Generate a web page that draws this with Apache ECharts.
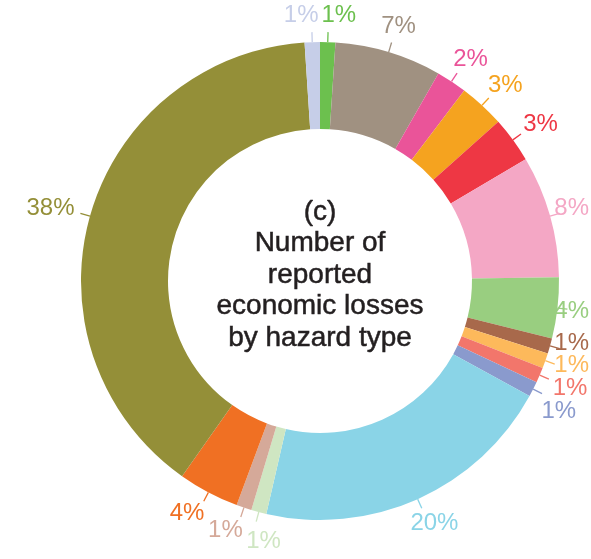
<!DOCTYPE html>
<html>
<head>
<meta charset="utf-8">
<script src="https://cdn.jsdelivr.net/npm/echarts@6/dist/echarts.min.js"></script>
<style>
  html, body { margin: 0; padding: 0; background: #ffffff; }
  #chart { width: 591px; height: 559px; }
</style>
</head>
<body>
<div id="chart"></div>
<script>
// Share of reported economic losses per hazard type (percent), clockwise from 12 o'clock
const hazards = [
  'h01', 'h02', 'h03', 'h04', 'h05', 'h06', 'h07', 'h08', 'h09',
  'h10', 'h11', 'h12', 'h13', 'h14', 'h15', 'h16', 'h17'
];
const shares = [1, 7, 2, 3, 3, 8, 4, 1, 1, 1, 1, 20, 1, 1, 4, 38, 1];

// Slice palette, same order as the values above
const palette = [
  '#6cc04e', '#a09181', '#ea5499', '#f5a31f', '#ee3744', '#f4a7c5',
  '#99ce80', '#a8694b', '#fdb95b', '#f2766b', '#8a9acd', '#8ad4e7',
  '#cfe6c2', '#d5a999', '#f07023', '#948f38', '#c6cee8'
];

const titleLines = ['(c)', 'Number of', 'reported', 'economic losses', 'by hazard type'];

const PIE_CENTER = [320, 281];
const VIEW_W = 591;
const LABEL_GAP = 7;

const chart = echarts.init(document.getElementById('chart'), null, { renderer: 'canvas' });

const pieData = shares.map((v, i) => ({
  name: hazards[i],
  value: v,
  itemStyle: { color: palette[i] },
  label: { color: palette[i] },
  labelLine: { lineStyle: { color: palette[i] } }
}));

// Label placement: each percentage sits just past the end of a short radial
// tick. A first layout pass collects the ticks, the labels are then spread
// along the ring where they collide, and a second pass applies the result.
const spots = [];

function clampX(s, x) {
  return Math.min(Math.max(x, s.w / 2 + 1), VIEW_W - 2 - s.w / 2);
}

function collectLabel(p) {
  const pts = p.labelLinePoints;
  if (!pts) return {};
  const a = pts[0];
  const b = pts[1];
  let ux = a[0] - PIE_CENTER[0];
  let uy = a[1] - PIE_CENTER[1];
  const len = Math.hypot(ux, uy) || 1;
  ux /= len;
  uy /= len;
  const w = p.labelRect.width;
  const h = p.labelRect.height * 0.8;
  const s = { a: a, b: b, ux: ux, uy: uy, w: w, h: h };
  // text centre on an ellipse around the tick end, sized to the text box
  s.x = clampX(s, b[0] + ux * (w / 2 + LABEL_GAP));
  s.y = b[1] + uy * (h / 2 + LABEL_GAP);
  spots[p.dataIndex] = s;
  return {};
}

function overlaps(s, t) {
  return Math.abs(s.x - t.x) < (s.w + t.w) / 2 + 3 &&
         Math.abs(s.y - t.y) < (s.h + t.h) / 2 + 3;
}

function spreadLabels() {
  const list = spots.filter(Boolean);
  for (let iter = 0; iter < 400; iter++) {
    let moved = false;
    for (let i = 0; i < list.length; i++) {
      for (let j = i + 1; j < list.length; j++) {
        const s = list[i];
        const t = list[j];
        if (!overlaps(s, t)) continue;
        moved = true;
        [[s, t], [t, s]].forEach(([m, o]) => {
          let tx = -m.uy;
          let ty = m.ux;
          if ((m.x - o.x) * tx + (m.y - o.y) * ty < 0) { tx = -tx; ty = -ty; }
          m.x = clampX(m, m.x + tx * 0.5);
          m.y += ty * 0.5;
        });
      }
    }
    if (!moved) break;
  }
}

function placeLabel(p) {
  const s = spots[p.dataIndex];
  if (!s) return {};
  return {
    x: s.x,
    y: s.y,
    align: 'center',
    verticalAlign: 'middle',
    labelLinePoints: [s.a, s.b, s.b]
  };
}

function buildOption(layoutFn) {
  return {
    animation: false,
    backgroundColor: '#ffffff',
    series: [{
      type: 'pie',
      center: PIE_CENTER,
      radius: [152, 239],
      startAngle: 90,
      clockwise: true,
      avoidLabelOverlap: false,
      data: pieData,
      itemStyle: { borderWidth: 0 },
      label: {
        show: true,
        position: 'outside',
        formatter: '{c}%',
        fontFamily: '"Liberation Sans", Arial, sans-serif',
        fontSize: 24,
        lineHeight: 20,
        overflow: 'none',
        distanceToLabelLine: 2
      },
      labelLine: {
        show: true,
        length: 10,
        length2: 0,
        lineStyle: { width: 1.3 }
      },
      labelLayout: layoutFn,
      emphasis: { disabled: true }
    }],
    graphic: [{
      type: 'text',
      style: {
        x: 320,
        y: 275,
        text: titleLines.join('\n'),
        fontFamily: '"Liberation Sans", Arial, sans-serif',
        fontSize: 28,
        lineHeight: 31.5,
        fill: '#231f20',
        stroke: '#231f20',
        lineWidth: 0.5,
        align: 'center',
        verticalAlign: 'middle'
      }
    }]
  };
}

chart.setOption(buildOption(collectLabel));
spreadLabels();
chart.setOption(buildOption(placeLabel));
</script>
</body>
</html>
